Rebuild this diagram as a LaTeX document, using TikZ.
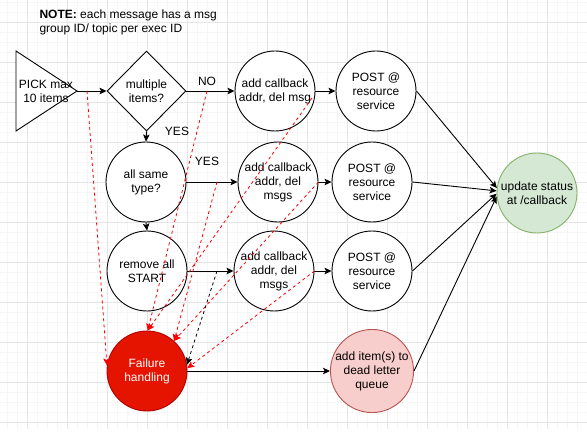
\documentclass[tikz,border=0pt]{standalone}
\usepackage{fontspec}
\setmainfont{Liberation Sans}
\usetikzlibrary{shapes.geometric,arrows.meta,calc}
\definecolor{failfill}{HTML}{E51400}
\definecolor{failline}{HTML}{B20000}
\definecolor{dlfill}{HTML}{F8CECC}
\definecolor{dlline}{HTML}{B85450}
\definecolor{okfill}{HTML}{D5E8D4}
\definecolor{okline}{HTML}{82B366}
\definecolor{gridmin}{HTML}{F6F6F6}
\definecolor{gridmaj}{HTML}{E6E6E6}
\definecolor{dashred}{HTML}{FF0000}
\begin{document}
\begin{tikzpicture}[x=1pt,y=-1pt,
  every node/.style={font=\fontsize{12}{14}\selectfont, align=center},
  circ/.style={circle, draw=black, line width=0.9pt, fill=white, minimum size=80pt, inner sep=0pt},
  arr/.style={-{Stealth[length=7pt,width=6.5pt,inset=1.5pt]}, line width=0.9pt},
  rdash/.style={draw=dashred, dash pattern=on 3pt off 3pt, line width=0.8pt, -{Stealth[length=7pt,width=6.5pt,inset=1.5pt,fill=dashred]}},
  bdash/.style={draw=black, dash pattern=on 3pt off 3pt, line width=0.8pt, -{Stealth[length=7pt,width=6.5pt,inset=1.5pt]}},
  gmin/.style={draw=gridmin, line width=0.8pt},
  gmaj/.style={draw=gridmaj, line width=0.8pt}]
\useasboundingbox[fill=white] (0,0) rectangle (587,441);
% grid
\foreach \gx in {7,17,...,587} \draw[gmin] (\gx,0) -- (\gx,429);
\foreach \gy in {2,12,...,422} \draw[gmin] (0,\gy) -- (587,\gy);
\foreach \gx in {27,67,...,547} \draw[gmaj] (\gx,0) -- (\gx,429);
\foreach \gy in {22,62,...,422} \draw[gmaj] (0,\gy) -- (587,\gy);

% note
\node[anchor=west, align=left] (note) at (36,22) {\textbf{NOTE:} each message has a msg\\group ID/ topic per exec ID};

% triangle
\draw[line width=0.9pt, fill=white] (16,51) -- (77,91) -- (16,131) -- cycle;
\coordinate (tip) at (77,91);
\node (pick) at (46,91) {PICK max\\10 items};

% nodes
\node[diamond, draw, fill=white, minimum width=79pt, minimum height=80pt, inner sep=0pt, line width=0.9pt] (dia) at (146.5,91) {multiple\\items?};
\node[circ] (cb1) at (275,91) {add callback\\addr, del msg};
\node[circ] (p1) at (376,91) {POST @\\resource\\service};
\node[circ] (same) at (146,182) {all same\\type?};
\node[circ] (cb2) at (278,182) {add callback\\addr, del\\msgs};
\node[circ] (p2) at (372,182) {POST @\\resource\\service};
\node[circ] (rem) at (147,271) {remove all\\START};
\node[circ] (cb3) at (274,271) {add callback\\addr, del\\msgs};
\node[circ] (p3) at (372,271) {POST @\\resource\\service};
\node[circ, fill=failfill, draw=failline, text=white] (fail) at (147,371) {Failure\\handling};
\node[circ, fill=dlfill, draw=dlline] (dl) at (372,371) {add item(s) to\\dead letter\\queue};
\node[circ, fill=okfill, draw=okline] (upd) at (537,193) {update status\\at /callback};

% labels
\node (lno) at (207,81) {NO};
\node (lyes1) at (177,131) {YES};
\node (lyes2) at (207,161) {YES};

% black arrows
\draw[arr] (tip) -- (dia.west);
\draw[arr] (dia.east) -- (cb1.west);
\draw[arr] (dia.south) -- (same.north);
\draw[arr] (same.east) -- (cb2.west);
\draw[arr] (same.south) -- (rem.north);
\draw[arr] (rem.east) -- (cb3.west);
\draw[arr] (cb1.east) -- (p1.west);
\draw[arr] (cb2.east) -- (p2.west);
\draw[arr] (cb3.east) -- (p3.west);
\draw[arr] (p1.east) -- (upd.173);
\draw[arr] (p2.east) -- (upd.177);
\draw[arr] (p3.east) -- (upd.181);
\draw[arr] (dl.east) -- (upd.185);
\draw[arr] (fail.east) -- (dl.west);

% dashed failure paths
\coordinate (s1) at (87,91);
\coordinate (s2) at (207,91);
\coordinate (s3) at (312,98);
\coordinate (s4) at (217,182);
\coordinate (s7) at (217,271);
\draw[rdash] (s1) -- (fail.172);
\draw[rdash] (s2) -- (fail.89);
\draw[rdash] (s3) -- (fail.89);
\draw[rdash] (s4) -- (fail.48);
\draw[rdash] (cb2.east) -- (fail.48);
\draw[rdash] (cb3.east) -- (fail.4);
\draw[bdash] (s7) -- (fail.9);
\end{tikzpicture}
\end{document}
